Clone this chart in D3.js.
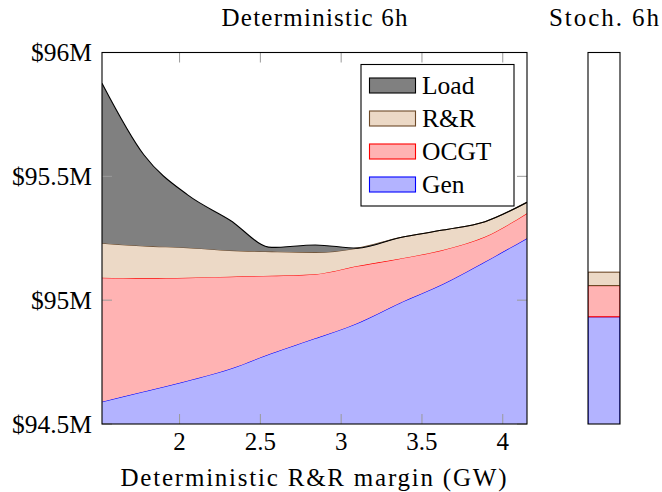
<!DOCTYPE html>
<html>
<head>
<meta charset="utf-8">
<script src="https://cdn.jsdelivr.net/npm/d3@7"></script>
<style>
  body { margin: 0; background: #fff; }
  text { font-family: "Liberation Serif", "Times New Roman", serif; fill: #000; }
</style>
</head>
<body>
<script>
// R&R margin (GW) on the deterministic runs
let margins = [1.52, 1.78, 2.05, 2.31, 2.57, 2.84, 3.10, 3.36, 3.63, 3.89, 4.15];

// cost components, $M (stacked: gen, ocgt, rr, load)
let gen  = [94.590, 94.631, 94.675, 94.722, 94.786, 94.846, 94.907, 94.988, 95.065, 95.155, 95.250];
let ocgt = [0.501, 0.457, 0.416, 0.373, 0.313, 0.259, 0.231, 0.179, 0.138, 0.101, 0.101];
let rr   = [0.139, 0.131, 0.121, 0.106, 0.097, 0.088, 0.072, 0.085, 0.080, 0.061, 0.044];
let load = [0.646, 0.367, 0.213, 0.123, 0.017, 0.030, 0.000, 0.000, 0.000, 0.000, 0.000];

// stochastic run, same components
let stochGen = 94.933, stochOcgt = 0.126, stochRr = 0.054, stochLoad = 0;

let xTicks = [2, 2.5, 3, 3.5, 4];
let yTicks = [94.5, 95, 95.5, 96];

let keys = ["gen", "ocgt", "rr", "load"];
let labels = {gen: "Gen", ocgt: "OCGT", rr: "R&R", load: "Load"};
let fills = {gen: "#b3b3ff", ocgt: "#ffb3b3", rr: "#ecd9c6", load: "#808080"};
let strokes = {gen: "#0000ff", ocgt: "#ff0000", rr: "#6e4a28", load: "#000000"};

let table = margins.map((m, i) => ({m: m, gen: gen[i], ocgt: ocgt[i], rr: rr[i], load: load[i]}));
let stochTable = [{m: "stoch", gen: stochGen, ocgt: stochOcgt, rr: stochRr, load: stochLoad}];

let W = 662, H = 492;
let plot = {left: 102, right: 527, top: 52.5, bottom: 424};
let side = {left: 588, right: 620};

let svg = d3.select("body").append("svg").attr("width", W).attr("height", H);

let x = d3.scaleLinear().domain([1.52, 4.15]).range([plot.left, plot.right]);
let y = d3.scaleLinear().domain([94.5, 96]).range([plot.bottom, plot.top]);

svg.append("clipPath").attr("id", "clipMain")
  .append("rect").attr("x", plot.left).attr("y", plot.top)
  .attr("width", plot.right - plot.left).attr("height", plot.bottom - plot.top);

let stacked = d3.stack().keys(keys)(table);

let area = d3.area().curve(d3.curveMonotoneX)
  .x(d => x(d.data.m)).y0(d => y(d[0])).y1(d => y(d[1]));
let line = d3.line().curve(d3.curveMonotoneX)
  .x(d => x(d.data.m)).y(d => y(d[1]));

let layers = svg.append("g").attr("clip-path", "url(#clipMain)")
  .selectAll("g").data(stacked).enter().append("g");

layers.append("path").attr("d", area).attr("fill", d => fills[d.key]);
layers.append("path").attr("d", line).attr("fill", "none")
  .attr("stroke", d => strokes[d.key]).attr("stroke-width", 1.1);

// ticks, inward, both sides
let tickLen = 10, tickCol = "#9a9a9a";
let ticks = svg.append("g").attr("stroke", tickCol).attr("stroke-width", 1);
xTicks.forEach(t => {
  ticks.append("line").attr("x1", x(t)).attr("x2", x(t)).attr("y1", plot.bottom).attr("y2", plot.bottom - tickLen);
  ticks.append("line").attr("x1", x(t)).attr("x2", x(t)).attr("y1", plot.top).attr("y2", plot.top + tickLen);
});
yTicks.forEach(t => {
  ticks.append("line").attr("x1", plot.left).attr("x2", plot.left + tickLen).attr("y1", y(t)).attr("y2", y(t));
  ticks.append("line").attr("x1", plot.right).attr("x2", plot.right - tickLen).attr("y1", y(t)).attr("y2", y(t));
});

svg.append("rect").attr("x", plot.left).attr("y", plot.top)
  .attr("width", plot.right - plot.left).attr("height", plot.bottom - plot.top)
  .attr("fill", "none").attr("stroke", "#000").attr("stroke-width", 1.1);

// tick labels
svg.append("g").selectAll("text").data(xTicks).enter().append("text")
  .attr("x", d => x(d)).attr("y", 450).attr("text-anchor", "middle")
  .attr("font-size", 25).text(d => d);
svg.append("g").selectAll("text").data(yTicks).enter().append("text")
  .attr("x", 92).attr("y", d => y(d) + 8.5).attr("text-anchor", "end")
  .attr("font-size", 25.5).text(d => "$" + d + "M");

// titles and axis label
svg.append("text").attr("x", (plot.left + plot.right) / 2).attr("y", 26)
  .attr("text-anchor", "middle").attr("font-size", 25)
  .attr("textLength", 186).attr("lengthAdjust", "spacing").text("Deterministic 6h");
svg.append("text").attr("x", 604).attr("y", 26)
  .attr("text-anchor", "middle").attr("font-size", 25)
  .attr("textLength", 110).attr("lengthAdjust", "spacing").text("Stoch. 6h");
svg.append("text").attr("x", 313.5).attr("y", 486)
  .attr("text-anchor", "middle").attr("font-size", 25)
  .attr("textLength", 386).attr("lengthAdjust", "spacing").text("Deterministic R&R margin (GW)");

// stochastic panel
let xs = d3.scaleBand().domain(["stoch"]).range([side.left, side.right]).padding(0);
let stochStacked = d3.stack().keys(keys)(stochTable);
svg.append("clipPath").attr("id", "clipSide")
  .append("rect").attr("x", side.left).attr("y", plot.top)
  .attr("width", side.right - side.left).attr("height", plot.bottom - plot.top);
let sideG = svg.append("g").attr("clip-path", "url(#clipSide)");
sideG.selectAll("rect").data(stochStacked.filter(s => s[0][1] > s[0][0])).enter().append("rect")
  .attr("x", xs("stoch")).attr("width", xs.bandwidth())
  .attr("y", d => y(d[0][1])).attr("height", d => y(d[0][0]) - y(d[0][1]))
  .attr("fill", d => fills[d.key]).attr("stroke", d => strokes[d.key]).attr("stroke-width", 1.1);
svg.append("rect").attr("x", side.left).attr("y", plot.top)
  .attr("width", side.right - side.left).attr("height", plot.bottom - plot.top)
  .attr("fill", "none").attr("stroke", "#000").attr("stroke-width", 1.1);

// legend
let legend = svg.append("g");
legend.append("rect").attr("x", 361).attr("y", 64.5).attr("width", 153).attr("height", 141.5)
  .attr("fill", "#fff").attr("stroke", "#000").attr("stroke-width", 1.1);
let entries = keys.slice().reverse();
let rows = legend.selectAll("g.row").data(entries).enter().append("g")
  .attr("class", "row").attr("transform", (d, i) => "translate(0," + (85.5 + i * 33) + ")");
rows.append("rect").attr("x", 369.5).attr("y", -7.5).attr("width", 46).attr("height", 15)
  .attr("fill", d => fills[d]).attr("stroke", d => strokes[d]).attr("stroke-width", 1.1);
rows.append("text").attr("x", 422).attr("y", 8.5).attr("font-size", 25.5).text(d => labels[d]);
</script>
</body>
</html>
